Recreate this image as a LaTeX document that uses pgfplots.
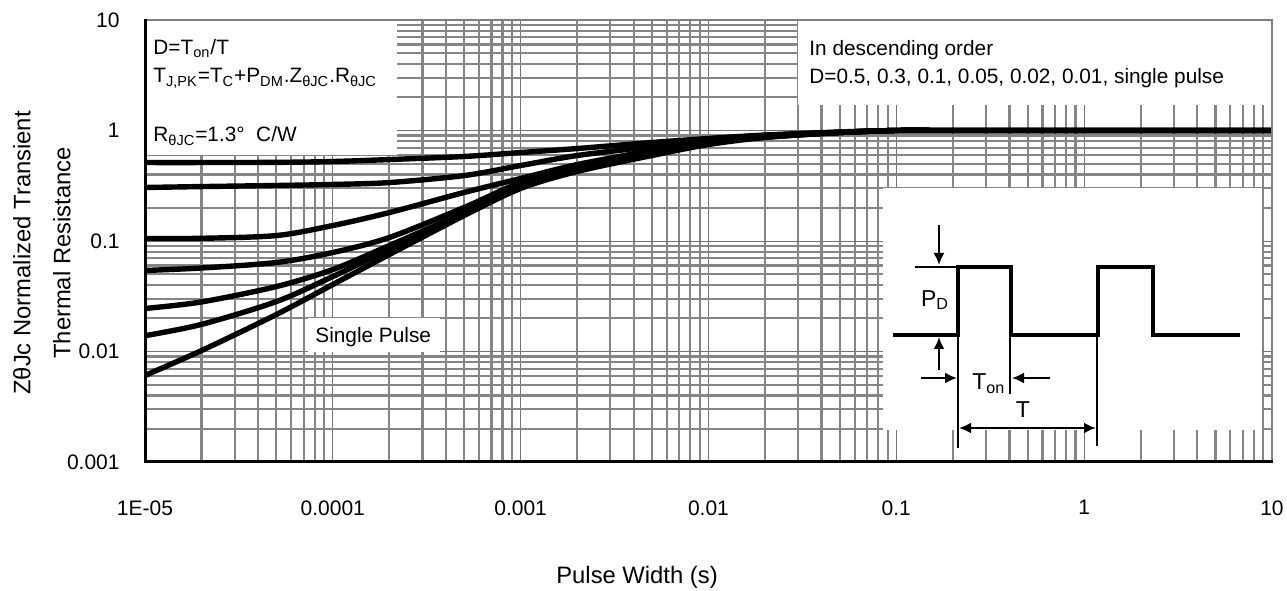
\documentclass[border=0pt]{standalone}
\usepackage{fontspec}
\setmainfont{Liberation Sans}
\usepackage{pgfplots}
\pgfplotsset{compat=1.18}
\usetikzlibrary{arrows.meta}

\begin{document}
\begin{tikzpicture}
\path[use as bounding box] (0pt,0pt) rectangle (643.5pt,295pt);
\begin{axis}[
    at={(72.5pt,64pt)}, anchor=south west,
    width=563.5pt, height=221pt, scale only axis,
    xmode=log, ymode=log,
    xmin=1e-5, xmax=10, ymin=1e-3, ymax=10,
    xtick={1e-5,1e-4,1e-3,1e-2,1e-1,1,10},
    xticklabels={1E-05,0.0001,0.001,0.01,0.1,1,10},
    ytick={1e-3,1e-2,1e-1,1,10},
    yticklabels={0.001,0.01,0.1,1,10},
    minor xtick={2e-5,3e-5,4e-5,5e-5,6e-5,7e-5,8e-5,9e-5,
                 2e-4,3e-4,4e-4,5e-4,6e-4,7e-4,8e-4,9e-4,
                 2e-3,3e-3,4e-3,5e-3,6e-3,7e-3,8e-3,9e-3,
                 0.02,0.03,0.04,0.05,0.06,0.07,0.08,0.09,
                 0.2,0.3,0.4,0.5,0.6,0.7,0.8,0.9,
                 2,3,4,5,6,7,8,9},
    minor ytick={2e-3,3e-3,4e-3,5e-3,6e-3,7e-3,8e-3,9e-3,
                 0.02,0.03,0.04,0.05,0.06,0.07,0.08,0.09,
                 0.2,0.3,0.4,0.5,0.6,0.7,0.8,0.9,
                 2,3,4,5,6,7,8,9},
    grid=both,
    major grid style={line width=0.5pt, color=black!55},
    minor grid style={line width=1.1pt, color=black!48},
    major tick length=0pt, minor tick length=0pt,
    axis line style={draw=none},
    xticklabel style={font=\fontsize{10.5}{12}\selectfont, anchor=north, inner sep=0pt, yshift=-19pt},
    yticklabel style={font=\fontsize{10.5}{12}\selectfont, anchor=east, inner sep=0pt, xshift=-12.5pt},
    xlabel={Pulse Width (s)},
    xlabel style={at={(axis description cs:0.4366,-0.26)}, anchor=center,
        font=\fontsize{11.9}{14}\selectfont},
    ylabel={ZθJc Normalized Transient\\Thermal Resistance},
    ylabel style={at={(axis description cs:-0.0914,0.473)}, anchor=center,
        align=center, font=\fontsize{11.9}{20}\selectfont},
    zcurve/.style={black, solid, line width=2.7pt, smooth, mark=none, line join=round},
]

% D = 0.5
\addplot[zcurve] coordinates {
  (1e-5,0.513) (2e-5,0.513) (5e-5,0.515) (1e-4,0.524) (2e-4,0.546)
  (5e-4,0.582) (1e-3,0.632) (2e-3,0.687) (5e-3,0.779) (1e-2,0.847)
  (2e-2,0.91) (5e-2,0.97) (0.1,1.0) (0.2,1.0) (1,1.0) (10,1.0)
};
% D = 0.3
\addplot[zcurve] coordinates {
  (1e-5,0.305) (2e-5,0.311) (5e-5,0.318) (1e-4,0.325) (2e-4,0.338)
  (5e-4,0.391) (1e-3,0.482) (2e-3,0.594) (5e-3,0.716) (1e-2,0.829)
  (2e-2,0.90) (5e-2,0.965) (0.1,1.0) (0.2,1.0) (1,1.0) (10,1.0)
};
% D = 0.1
\addplot[zcurve] coordinates {
  (1e-5,0.1054) (2e-5,0.1058) (5e-5,0.112) (1e-4,0.138) (2e-4,0.181)
  (5e-4,0.275) (1e-3,0.368) (2e-3,0.492) (5e-3,0.659) (1e-2,0.812)
  (2e-2,0.89) (5e-2,0.96) (0.1,1.0) (0.2,1.0) (1,1.0) (10,1.0)
};
% D = 0.05
\addplot[zcurve] coordinates {
  (1e-5,0.0541) (2e-5,0.0570) (5e-5,0.0639) (1e-4,0.0787) (2e-4,0.1076)
  (5e-4,0.201) (1e-3,0.338) (2e-3,0.463) (5e-3,0.632) (1e-2,0.795)
  (2e-2,0.88) (5e-2,0.96) (0.1,1.0) (0.2,1.0) (1,1.0) (10,1.0)
};
% D = 0.02
\addplot[zcurve] coordinates {
  (1e-5,0.0245) (2e-5,0.0281) (5e-5,0.0387) (1e-4,0.0552) (2e-4,0.091)
  (5e-4,0.181) (1e-3,0.318) (2e-3,0.444) (5e-3,0.619) (1e-2,0.779)
  (2e-2,0.875) (5e-2,0.96) (0.1,1.0) (0.2,1.0) (1,1.0) (10,1.0)
};
% D = 0.01
\addplot[zcurve] coordinates {
  (1e-5,0.0139) (2e-5,0.0176) (5e-5,0.0283) (1e-4,0.0477) (2e-4,0.0838)
  (5e-4,0.174) (1e-3,0.305) (2e-3,0.435) (5e-3,0.606) (1e-2,0.763)
  (2e-2,0.87) (5e-2,0.96) (0.1,1.0) (0.2,1.0) (1,1.0) (10,1.0)
};
% single pulse
\addplot[zcurve] coordinates {
  (1e-5,0.00607) (2e-5,0.0102) (5e-5,0.0216) (1e-4,0.0404) (2e-4,0.0755)
  (5e-4,0.170) (1e-3,0.299) (2e-3,0.426) (5e-3,0.594) (1e-2,0.747)
  (2e-2,0.865) (5e-2,0.959) (0.1,1.0) (0.2,1.0) (1,1.0) (10,1.0)
};
\end{axis}

% white note boxes over the grid
\fill[white] (72.5pt,285pt) rectangle (198.5pt,217.5pt);
\fill[white] (399pt,285pt) rectangle (636pt,242.5pt);
\fill[white] (154pt,136pt) rectangle (220pt,119pt);
\fill[white] (441.5pt,201pt) rectangle (631pt,80pt);

% frame
\draw[black!50, line width=1pt] (72.5pt,285pt) -- (636pt,285pt) -- (636pt,64pt);
\draw[black, line width=1.5pt] (72.5pt,285.5pt) -- (72.5pt,64pt) -- (636.5pt,64pt);

\begin{scope}[every node/.style={inner sep=0pt, font=\fontsize{10.4}{12}\selectfont},
              arr/.style={line width=1pt, -{Latex[length=6pt,width=5.5pt]}}]
\node[anchor=base west] at (76.5pt,267.5pt) {D=T\textsubscript{on}/T};
\node[anchor=base west] at (76.5pt,253.5pt) {T\textsubscript{J,PK}=T\textsubscript{C}+P\textsubscript{DM}.Z\textsubscript{θJC}.R\textsubscript{θJC}};
\node[anchor=base west] at (76.5pt,224pt) {R\textsubscript{θJC}=1.3°~~C/W};
\node[anchor=base west] at (404.5pt,267pt) {In descending order};
\node[anchor=base west] at (404.5pt,253pt) {D=0.5, 0.3, 0.1, 0.05, 0.02, 0.01, single pulse};
\node[anchor=base west] at (157.5pt,123.5pt) {Single Pulse};

% pulse train inset
\draw[line width=2pt, line join=miter]
  (446.5pt,127.5pt) -- (479pt,127.5pt) -- (479pt,161.5pt) -- (505.5pt,161.5pt)
  -- (505.5pt,127.5pt) -- (549pt,127.5pt) -- (549pt,161.5pt) -- (576.5pt,161.5pt)
  -- (576.5pt,127.5pt) -- (620pt,127.5pt);
\draw[line width=1pt] (457.5pt,161.5pt) -- (479pt,161.5pt);
\draw[line width=0.6pt] (479pt,127.5pt) -- (479pt,71pt);
\draw[line width=0.6pt] (505pt,127.5pt) -- (505pt,98pt);
\draw[line width=0.6pt] (548.5pt,127.5pt) -- (548.5pt,72pt);
\draw[arr] (469.5pt,182.5pt) -- (469.5pt,162.5pt);
\draw[arr] (469.5pt,110pt) -- (469.5pt,126.5pt);
\draw[arr] (460.5pt,106pt) -- (478.5pt,106pt);
\draw[arr] (525pt,106pt) -- (506pt,106pt);
\draw[line width=1.2pt, {Latex[length=6pt,width=5.5pt]}-{Latex[length=6pt,width=5.5pt]}] (479.5pt,81pt) -- (548pt,81pt);
\node at (467.5pt,145pt) {\fontsize{11.5}{13}\selectfont P\textsubscript{D}};
\node[anchor=base west] at (486pt,100pt) {\fontsize{11.5}{13}\selectfont T\textsubscript{on}};
\node[anchor=base] at (511.5pt,86pt) {\fontsize{11.5}{13}\selectfont T};
\end{scope}
\end{tikzpicture}
\end{document}
